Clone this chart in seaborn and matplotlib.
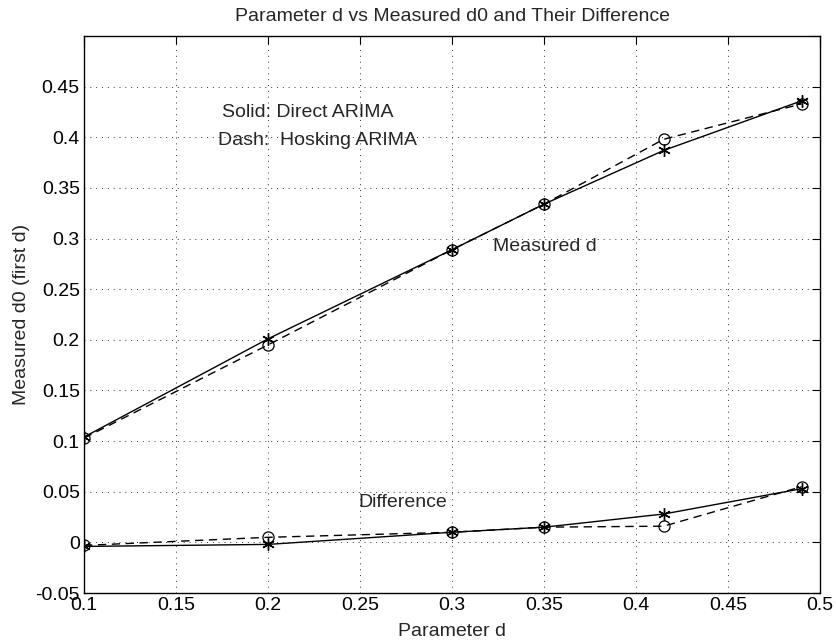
import numpy as np
import pandas as pd
import matplotlib
matplotlib.use("Agg")
import matplotlib.pyplot as plt
import seaborn as sns

# ---- data ----
param_d = [0.1, 0.2, 0.3, 0.35, 0.415, 0.49]
measured_direct = [0.104, 0.201, 0.289, 0.334, 0.387, 0.436]
measured_hosking = [0.103, 0.195, 0.289, 0.334, 0.398, 0.433]
diff_direct = [-0.004, -0.002, 0.010, 0.015, 0.028, 0.053]
diff_hosking = [-0.003, 0.005, 0.010, 0.015, 0.016, 0.055]

x_ticks = [0.1, 0.15, 0.2, 0.25, 0.3, 0.35, 0.4, 0.45, 0.5]
x_ticklabels = ["0.1", "0.15", "0.2", "0.25", "0.3", "0.35", "0.4", "0.45", "0.5"]
y_ticks = [-0.05, 0, 0.05, 0.1, 0.15, 0.2, 0.25, 0.3, 0.35, 0.4, 0.45, 0.5]
y_ticklabels = ["-0.05", "0", "0.05", "0.1", "0.15", "0.2", "0.25", "0.3", "0.35", "0.4", "0.45", ""]

sns.set_style("white")
plt.rcParams['font.family'] = ['Liberation Sans', 'DejaVu Sans']
FS = 14

fig = plt.figure(figsize=(8.36, 6.42), dpi=100)
ax = fig.add_axes([0.1005, 0.0763, 0.8804, 0.8676])

asterisk = (6, 2, 0)
common = dict(color="black", linewidth=1.0, ax=ax, legend=False)
sns.lineplot(x=param_d, y=measured_direct, marker=asterisk, markersize=9,
             markeredgecolor="black", markeredgewidth=1.0, linestyle="-", **common)
sns.lineplot(x=param_d, y=measured_hosking, marker="o", markersize=8,
             markerfacecolor="none", markeredgecolor="black", markeredgewidth=0.9,
             linestyle=(0, (6, 4)), **common)
sns.lineplot(x=param_d, y=diff_direct, marker=asterisk, markersize=9,
             markeredgecolor="black", markeredgewidth=1.0, linestyle="-", **common)
sns.lineplot(x=param_d, y=diff_hosking, marker="o", markersize=8,
             markerfacecolor="none", markeredgecolor="black", markeredgewidth=0.9,
             linestyle=(0, (6, 4)), **common)

ax.set_xlim(0.1, 0.5)
ax.set_ylim(-0.05, 0.5)
ax.set_xticks(x_ticks)
ax.set_xticklabels(x_ticklabels, fontsize=FS)
ax.set_yticks(y_ticks)
ax.set_yticklabels(y_ticklabels, fontsize=FS)
ax.tick_params(direction="in", length=6, width=0.8, top=True, right=True,
               labeltop=False, labelright=False, pad=3, colors="black")
ax.grid(True, linestyle=(0, (1, 5)), color="#333333", linewidth=0.7)
for s in ax.spines.values():
    s.set_visible(True)
    s.set_color("black")
    s.set_linewidth(1.0)

ax.set_title("Parameter d vs Measured d0 and Their Difference", fontsize=FS, pad=11)
ax.set_xlabel("Parameter d", fontsize=FS, labelpad=6)
ax.set_ylabel("Measured d0 (first d)", fontsize=FS, labelpad=4)

ax.text(0.175, 0.424, "Solid: Direct ARIMA", fontsize=FS, va="center", ha="left")
ax.text(0.173, 0.397, "Dash:  Hosking ARIMA", fontsize=FS, va="center", ha="left")
ax.text(0.322, 0.292, "Measured d", fontsize=FS, va="center", ha="left")
ax.text(0.249, 0.039, "Difference", fontsize=FS, va="center", ha="left")

fig.savefig("out.png", dpi=100)
